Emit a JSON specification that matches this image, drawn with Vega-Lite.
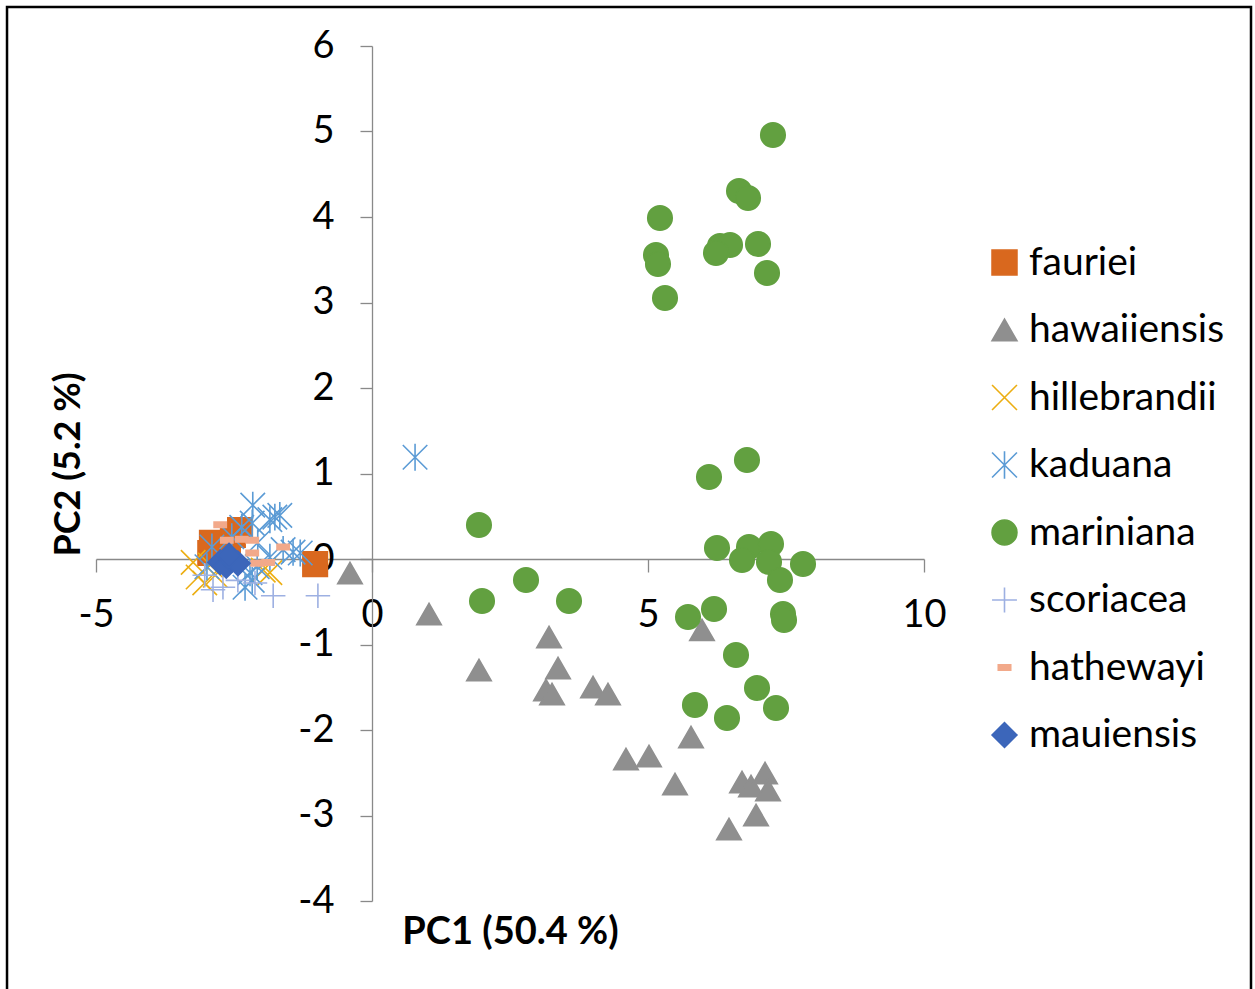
{
  "$schema": "https://vega.github.io/schema/vega-lite/v6.json",
  "autosize": {"type": "none"},
  "width": 828,
  "height": 855,
  "padding": {"left": 96, "top": 46, "right": 331, "bottom": 88},
  "background": "white",
  "config": {"font": "Lato", "view": {"stroke": null}},
  "datasets": {
    "pts": [
      {"species": "fauriei", "pc1": -2.90, "pc2": 0.19},
      {"species": "fauriei", "pc1": -2.39, "pc2": 0.34},
      {"species": "fauriei", "pc1": -2.52, "pc2": 0.28},
      {"species": "fauriei", "pc1": -2.93, "pc2": 0.07},
      {"species": "fauriei", "pc1": -2.61, "pc2": 0.13},
      {"species": "fauriei", "pc1": -1.03, "pc2": -0.06},
      {"species": "hawaiiensis", "pc1": -0.399, "pc2": -0.164},
      {"species": "hawaiiensis", "pc1": 1.033, "pc2": -0.643},
      {"species": "hawaiiensis", "pc1": 1.938, "pc2": -1.298},
      {"species": "hawaiiensis", "pc1": 3.207, "pc2": -0.912},
      {"species": "hawaiiensis", "pc1": 3.370, "pc2": -1.275},
      {"species": "hawaiiensis", "pc1": 3.152, "pc2": -1.532},
      {"species": "hawaiiensis", "pc1": 3.261, "pc2": -1.579},
      {"species": "hawaiiensis", "pc1": 4.004, "pc2": -1.497},
      {"species": "hawaiiensis", "pc1": 4.275, "pc2": -1.579},
      {"species": "hawaiiensis", "pc1": 5.978, "pc2": -0.830},
      {"species": "hawaiiensis", "pc1": 5.779, "pc2": -2.082},
      {"species": "hawaiiensis", "pc1": 4.601, "pc2": -2.339},
      {"species": "hawaiiensis", "pc1": 5.018, "pc2": -2.304},
      {"species": "hawaiiensis", "pc1": 5.489, "pc2": -2.632},
      {"species": "hawaiiensis", "pc1": 6.467, "pc2": -3.158},
      {"species": "hawaiiensis", "pc1": 6.703, "pc2": -2.608},
      {"species": "hawaiiensis", "pc1": 6.866, "pc2": -2.655},
      {"species": "hawaiiensis", "pc1": 7.120, "pc2": -2.503},
      {"species": "hawaiiensis", "pc1": 7.174, "pc2": -2.702},
      {"species": "hawaiiensis", "pc1": 6.957, "pc2": -2.994},
      {"species": "hillebrandii", "pc1": -3.24, "pc2": -0.04},
      {"species": "hillebrandii", "pc1": -3.15, "pc2": -0.21},
      {"species": "hillebrandii", "pc1": -3.03, "pc2": -0.28},
      {"species": "hillebrandii", "pc1": -1.85, "pc2": -0.16},
      {"species": "hillebrandii", "pc1": -1.97, "pc2": -0.13},
      {"species": "hillebrandii", "pc1": -2.84, "pc2": -0.19},
      {"species": "hillebrandii", "pc1": -2.93, "pc2": -0.07},
      {"species": "kaduana", "pc1": -2.16, "pc2": 0.63},
      {"species": "kaduana", "pc1": -1.76, "pc2": 0.49},
      {"species": "kaduana", "pc1": -1.85, "pc2": 0.46},
      {"species": "kaduana", "pc1": -1.67, "pc2": 0.51},
      {"species": "kaduana", "pc1": -1.61, "pc2": 0.11},
      {"species": "kaduana", "pc1": -1.43, "pc2": 0.08},
      {"species": "kaduana", "pc1": -1.30, "pc2": 0.07},
      {"species": "kaduana", "pc1": -1.85, "pc2": 0.02},
      {"species": "kaduana", "pc1": -2.08, "pc2": -0.09},
      {"species": "kaduana", "pc1": -2.21, "pc2": -0.16},
      {"species": "kaduana", "pc1": -2.54, "pc2": 0.26},
      {"species": "kaduana", "pc1": -2.36, "pc2": 0.37},
      {"species": "kaduana", "pc1": -2.17, "pc2": 0.42},
      {"species": "kaduana", "pc1": -2.07, "pc2": 0.19},
      {"species": "kaduana", "pc1": -2.17, "pc2": -0.25},
      {"species": "kaduana", "pc1": -2.30, "pc2": -0.33},
      {"species": "kaduana", "pc1": -2.99, "pc2": -0.09},
      {"species": "kaduana", "pc1": -2.90, "pc2": 0.14},
      {"species": "kaduana", "pc1": 0.78, "pc2": 1.19},
      {"species": "mariniana", "pc1": 7.264, "pc2": 4.959},
      {"species": "mariniana", "pc1": 6.649, "pc2": 4.304},
      {"species": "mariniana", "pc1": 6.812, "pc2": 4.222},
      {"species": "mariniana", "pc1": 5.217, "pc2": 3.988},
      {"species": "mariniana", "pc1": 6.304, "pc2": 3.661},
      {"species": "mariniana", "pc1": 6.486, "pc2": 3.673},
      {"species": "mariniana", "pc1": 6.993, "pc2": 3.684},
      {"species": "mariniana", "pc1": 6.232, "pc2": 3.579},
      {"species": "mariniana", "pc1": 5.145, "pc2": 3.556},
      {"species": "mariniana", "pc1": 5.181, "pc2": 3.450},
      {"species": "mariniana", "pc1": 7.156, "pc2": 3.345},
      {"species": "mariniana", "pc1": 5.308, "pc2": 3.053},
      {"species": "mariniana", "pc1": 6.793, "pc2": 1.158},
      {"species": "mariniana", "pc1": 6.105, "pc2": 0.959},
      {"species": "mariniana", "pc1": 1.938, "pc2": 0.398},
      {"species": "mariniana", "pc1": 6.250, "pc2": 0.129},
      {"species": "mariniana", "pc1": 6.830, "pc2": 0.140},
      {"species": "mariniana", "pc1": 7.228, "pc2": 0.175},
      {"species": "mariniana", "pc1": 6.703, "pc2": -0.012},
      {"species": "mariniana", "pc1": 7.192, "pc2": -0.035},
      {"species": "mariniana", "pc1": 7.808, "pc2": -0.058},
      {"species": "mariniana", "pc1": 7.391, "pc2": -0.246},
      {"species": "mariniana", "pc1": 2.790, "pc2": -0.246},
      {"species": "mariniana", "pc1": 1.993, "pc2": -0.491},
      {"species": "mariniana", "pc1": 3.569, "pc2": -0.491},
      {"species": "mariniana", "pc1": 6.196, "pc2": -0.585},
      {"species": "mariniana", "pc1": 5.725, "pc2": -0.678},
      {"species": "mariniana", "pc1": 7.446, "pc2": -0.643},
      {"species": "mariniana", "pc1": 7.464, "pc2": -0.713},
      {"species": "mariniana", "pc1": 6.594, "pc2": -1.123},
      {"species": "mariniana", "pc1": 6.975, "pc2": -1.509},
      {"species": "mariniana", "pc1": 5.851, "pc2": -1.708},
      {"species": "mariniana", "pc1": 6.431, "pc2": -1.860},
      {"species": "mariniana", "pc1": 7.319, "pc2": -1.743},
      {"species": "scoriacea", "pc1": -2.88, "pc2": -0.36},
      {"species": "scoriacea", "pc1": -2.70, "pc2": -0.33},
      {"species": "scoriacea", "pc1": -2.43, "pc2": -0.25},
      {"species": "scoriacea", "pc1": -2.12, "pc2": -0.28},
      {"species": "scoriacea", "pc1": -1.79, "pc2": -0.43},
      {"species": "scoriacea", "pc1": -0.98, "pc2": -0.43},
      {"species": "scoriacea", "pc1": -3.03, "pc2": -0.19},
      {"species": "hathewayi", "pc1": -2.75, "pc2": 0.40},
      {"species": "hathewayi", "pc1": -2.63, "pc2": 0.22},
      {"species": "hathewayi", "pc1": -2.36, "pc2": 0.23},
      {"species": "hathewayi", "pc1": -2.17, "pc2": 0.07},
      {"species": "hathewayi", "pc1": -2.08, "pc2": -0.05},
      {"species": "hathewayi", "pc1": -1.61, "pc2": 0.14},
      {"species": "hathewayi", "pc1": -1.88, "pc2": -0.04},
      {"species": "hathewayi", "pc1": -2.17, "pc2": 0.22},
      {"species": "mauiensis", "pc1": -2.75, "pc2": -0.04},
      {"species": "mauiensis", "pc1": -2.64, "pc2": -0.08},
      {"species": "mauiensis", "pc1": -2.54, "pc2": -0.01},
      {"species": "mauiensis", "pc1": -2.43, "pc2": -0.05},
      {"species": "mauiensis", "pc1": -2.59, "pc2": 0.04}
    ]
  },
  "layer": [
    {
      "data": {"values": [{"frame": "chart border"}]},
      "mark": {"type": "rect", "fill": null, "fillOpacity": 0, "stroke": "black", "strokeWidth": 2.5, "clip": false},
      "encoding": {
        "x": {"datum": -6.612, "type": "quantitative"},
        "x2": {"datum": 15.924},
        "y": {"datum": 6.456, "type": "quantitative"},
        "y2": {"datum": -5.2}
      }
    },
    {
      "data": {"name": "pts"},
      "mark": {"type": "point", "filled": true, "opacity": 1, "strokeWidth": 1.6, "size": 600},
      "encoding": {
        "x": {
          "field": "pc1", "type": "quantitative",
          "scale": {"domain": [-5, 10], "nice": false, "zero": false},
          "axis": {
            "values": [-5, 0, 5, 10], "offset": -342, "grid": false, "labelExpr": "'' + datum.value",
            "domainColor": "#898989", "domainWidth": 1.3, "tickColor": "#898989", "tickWidth": 1.3, "tickSize": 13,
            "labelFont": "Lato", "labelFontSize": 38, "labelColor": "black", "labelPadding": 24, "labelBaseline": "top", "labelFlush": false, "labelOverlap": false,
            "title": "PC1 (50.4 %)", "titleFont": "Lato", "titleFontSize": 38, "titleFontWeight": "bold", "titleColor": "black",
            "titleBaseline": "middle", "titleY": 373
          }
        },
        "y": {
          "field": "pc2", "type": "quantitative",
          "scale": {"domain": [-4, 6], "nice": false, "zero": false},
          "axis": {
            "values": [-4, -3, -2, -1, 0, 1, 2, 3, 4, 5, 6], "offset": -276, "grid": false, "labelExpr": "'' + datum.value",
            "domainColor": "#898989", "domainWidth": 1.3, "tickColor": "#898989", "tickWidth": 1.3, "tickSize": 12,
            "labelFont": "Lato", "labelFontSize": 38, "labelColor": "black", "labelPadding": 26, "labelFlush": false, "labelOverlap": false,
            "title": "PC2 (5.2 %)", "titleFont": "Lato", "titleFontSize": 36, "titleFontWeight": "bold", "titleColor": "black",
            "titleAngle": -90, "titleBaseline": "middle", "titleAlign": "center", "titleX": -304, "titleY": 418
          }
        },
        "fill": {
          "field": "species", "type": "nominal",
          "scale": {
            "domain": ["fauriei", "hawaiiensis", "hillebrandii", "kaduana", "mariniana", "scoriacea", "hathewayi", "mauiensis"],
            "range": ["#D9681E", "#8F8F8F", "#ECAE12", "#5B9BD5", "#62A040", "#9DB0E2", "#F2A98A", "#3C66BA"]
          },
          "legend": {
            "title": null, "orient": "none", "legendX": 889, "legendY": 197,
            "labelFont": "Lato", "labelFontSize": 39, "labelColor": "black", "labelOffset": 5,
            "rowPadding": 27.5, "symbolSize": 620, "symbolStrokeWidth": 1.6, "padding": 0, "labelLimit": 400
          }
        },
        "stroke": {
          "field": "species", "type": "nominal",
          "scale": {
            "domain": ["fauriei", "hawaiiensis", "hillebrandii", "kaduana", "mariniana", "scoriacea", "hathewayi", "mauiensis"],
            "range": ["#D9681E", "#8F8F8F", "#ECAE12", "#5B9BD5", "#62A040", "#9DB0E2", "#F2A98A", "#3C66BA"]
          },
          "legend": {
            "title": null, "orient": "none", "legendX": 889, "legendY": 197,
            "labelFont": "Lato", "labelFontSize": 39, "labelColor": "black", "labelOffset": 5,
            "rowPadding": 27.5, "symbolSize": 620, "symbolStrokeWidth": 1.6, "padding": 0, "labelLimit": 400
          }
        },
        "shape": {
          "field": "species", "type": "nominal",
          "scale": {
            "domain": ["fauriei", "hawaiiensis", "hillebrandii", "kaduana", "mariniana", "scoriacea", "hathewayi", "mauiensis"],
            "range": ["square", "triangle-up", "M-1,-1L1,1M1,-1L-1,1", "M-1,-1L1,1M1,-1L-1,1M0,-1.1L0,1.1", "circle", "M-1,0L1,0M0,-1L0,1", "M-0.5,-0.22L0.5,-0.22L0.5,0.22L-0.5,0.22Z", "diamond"]
          },
          "legend": {
            "title": null, "orient": "none", "legendX": 889, "legendY": 197,
            "labelFont": "Lato", "labelFontSize": 39, "labelColor": "black", "labelOffset": 5,
            "rowPadding": 27.5, "symbolSize": 620, "symbolStrokeWidth": 1.6, "padding": 0, "labelLimit": 400
          }
        }
      }
    }
  ]
}
